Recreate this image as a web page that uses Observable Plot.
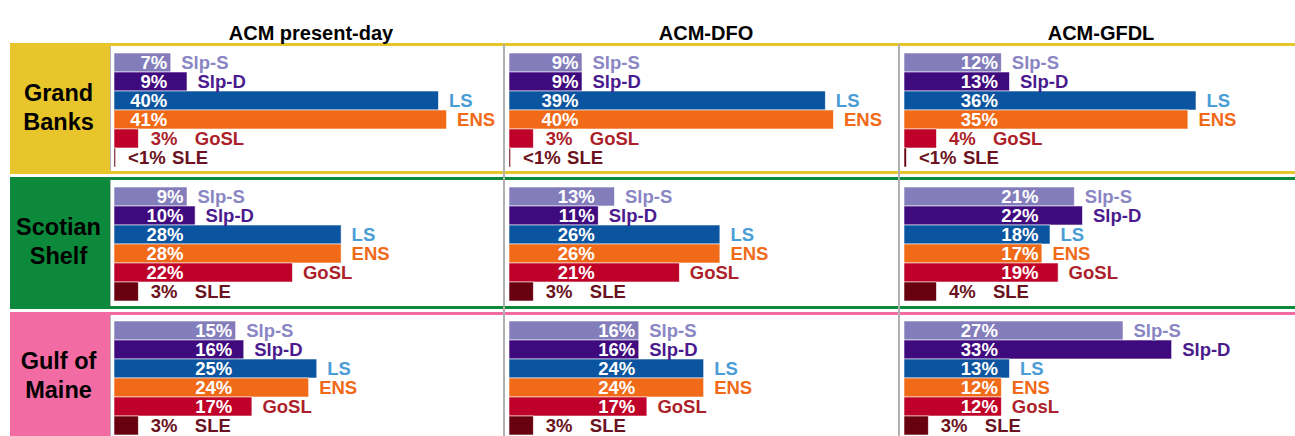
<!DOCTYPE html>
<html>
<head>
<meta charset="utf-8">
<script src="https://cdn.jsdelivr.net/npm/d3@7"></script>
<script src="https://cdn.jsdelivr.net/npm/@observablehq/plot@0.6"></script>
<style>
  html, body { margin: 0; padding: 0; overflow: hidden; background: white; }
  #wrap { position: relative; width: 1295px; height: 441px; }
  .decor { position: absolute; box-sizing: border-box; }
  #chart { position: absolute; left: 0; top: 0; }
</style>
</head>
<body>
<div id="wrap"><div id="chart"></div></div>
<script>
// ---- data ----
const regions = ["Grand Banks", "Scotian Shelf", "Gulf of Maine"];
const regionLabels = ["Grand\nBanks", "Scotian\nShelf", "Gulf of\nMaine"];
const regionColors = ["#E8C52B", "#0C893A", "#F26BA3"];
const models = ["ACM present-day", "ACM-DFO", "ACM-GFDL"];
const sources = ["Slp-S", "Slp-D", "LS", "ENS", "GoSL", "SLE"];
const barColors = ["#837EBB", "#3F0A7E", "#0B55A0", "#F06A18", "#BF0028", "#680010"];
const labelColors = ["#8A86C4", "#4A1A8E", "#4B9DD6", "#F06A18", "#AD1F2A", "#6B1220"];

// percent contribution per source (order of `sources`); values < 1 are shown as "<1%"
const gbPresent  = [7, 9, 40, 41, 3, 0.2];
const gbDFO      = [9, 9, 39, 40, 3, 0.2];
const gbGFDL     = [12, 13, 36, 35, 4, 0.3];
const ssPresent  = [9, 10, 28, 28, 22, 3];
const ssDFO      = [13, 11, 26, 26, 21, 3];
const ssGFDL     = [21, 22, 18, 17, 19, 4];
const gomPresent = [15, 16, 25, 24, 17, 3];
const gomDFO     = [16, 16, 24, 24, 17, 3];
const gomGFDL    = [27, 33, 13, 12, 12, 3];
// source names as printed in the Gulf of Maine / ACM-GFDL panel
const gomGFDLSourceLabels = ["Slp-S", "Slp-D", "LS", "ENS", "GosL", "SLE"];

const panelValues = [
  [gbPresent, gbDFO, gbGFDL],
  [ssPresent, ssDFO, ssGFDL],
  [gomPresent, gomDFO, gomGFDL]
];

// ---- build table ----
const table = [];
regions.forEach((region, ri) => {
  models.forEach((model, mi) => {
    const vals = panelValues[ri][mi];
    const names = (ri === 2 && mi === 2) ? gomGFDLSourceLabels : sources;
    const anchor = d3.min(vals.filter(v => v >= 5));
    vals.forEach((v, si) => {
      table.push({
        region, model, source: sources[si], value: v,
        pct: v < 1 ? "<1%" : v + "%",
        name: names[si],
        anchor,
        small: v < 5,
        barColor: barColors[si],
        labelColor: labelColors[si]
      });
    });
  });
});
const big = table.filter(d => !d.small);
const small = table.filter(d => d.small);
const titleRows = models.map(m => ({model: m, region: regions[0]}));
const rowLabelRows = regions.map((r, i) => ({model: models[0], region: r, label: regionLabels[i]}));

// ---- layout ----
const W = 1295, H = 441, MT = 44, ML = 110, PAD = 0.048;
const FONT = "'Liberation Sans', Arial, Helvetica, sans-serif";
const step = (H - MT) / (regions.length - PAD);
const bw = step * (1 - PAD);
const colW = (W - ML) / models.length;

// decorations: row frames, label cells, column separators
const wrap = document.getElementById("wrap");
function addDiv(style) {
  const d = document.createElement("div");
  d.className = "decor";
  Object.assign(d.style, style);
  wrap.insertBefore(d, document.getElementById("chart"));
}
regions.forEach((r, i) => {
  const top = MT + i * step;
  addDiv({left: "10px", top: (top - 1) + "px", width: "1320px", height: (bw + 3) + "px",
          border: "3px solid " + regionColors[i], borderRight: "none"});
  addDiv({left: "10px", top: (top - 1) + "px", width: (ML - 10) + "px", height: (bw + 3) + "px",
          background: regionColors[i]});
  addDiv({left: (ML - 0.5) + "px", top: (top + 2) + "px", width: "1px", height: (bw - 3) + "px",
          background: "#b5b5b5"});
});
for (let k = 1; k < models.length; k++) {
  addDiv({left: (ML + k * colW - 2) + "px", top: MT + "px", width: "1.5px", height: (H - MT) + "px",
          background: "#b0b0b0"});
}

const chart = Plot.plot({
  width: W,
  height: H,
  marginTop: MT,
  marginBottom: 0,
  marginLeft: ML,
  marginRight: 0,
  style: {background: "transparent", fontFamily: FONT, overflow: "visible"},
  fx: {domain: models, paddingInner: 0, paddingOuter: 0, axis: null},
  fy: {domain: regions, paddingInner: PAD, paddingOuter: 0, axis: null},
  x: {domain: [0, 45], insetLeft: 4, insetRight: 26, axis: null},
  y: {domain: sources, padding: 0, insetTop: 7, insetBottom: 6, axis: null},
  color: {type: "identity"},
  marks: [
    Plot.barX(table, {fx: "model", fy: "region", y: "source", x: "value",
      fill: "barColor", stroke: "white", strokeWidth: 0.8, strokeOpacity: 0.7}),
    Plot.text(big, {fx: "model", fy: "region", y: "source", x: "anchor", text: "pct",
      textAnchor: "end", dx: -4, fill: "white", fontSize: 18.5, fontWeight: "bold"}),
    Plot.text(big, {fx: "model", fy: "region", y: "source", x: "value", text: "name",
      textAnchor: "start", dx: 10, fill: "labelColor", fontSize: 18.5, fontWeight: "bold"}),
    Plot.text(small, {fx: "model", fy: "region", y: "source", x: "value", text: "pct",
      textAnchor: "start", dx: 12, fill: "labelColor", fontSize: 18.5, fontWeight: "bold"}),
    Plot.text(small, {fx: "model", fy: "region", y: "source", x: "value", text: "name",
      textAnchor: "start", dx: 56, fill: "labelColor", fontSize: 18.5, fontWeight: "bold"}),
    Plot.text(titleRows, {fx: "model", fy: "region", text: "model", frameAnchor: "top",
      dy: -20, dx: 3, fontSize: 20, fontWeight: "bold", fill: "black"}),
    Plot.text(rowLabelRows, {fx: "model", fy: "region", text: "label", frameAnchor: "left",
      dx: -52, dy: -3, textAnchor: "middle", fontSize: 23.5, fontWeight: "bold", fill: "black", lineHeight: 1.2})
  ]
});
document.getElementById("chart").appendChild(chart);
</script>
</body>
</html>
